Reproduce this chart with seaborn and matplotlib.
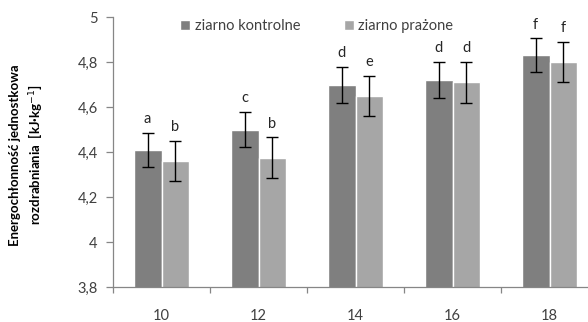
import pandas as pd
import matplotlib.pyplot as plt
import seaborn as sns
from matplotlib.ticker import FuncFormatter, FixedLocator

# values
loads = ['10', '12', '14', '16', '18']
series = ['ziarno kontrolne', 'ziarno prażone']
kontrolne = [4.41, 4.50, 4.70, 4.72, 4.83]
prazone = [4.36, 4.375, 4.65, 4.71, 4.80]
err_kontrolne = [0.075, 0.078, 0.08, 0.08, 0.075]
err_prazone = [0.09, 0.09, 0.09, 0.09, 0.09]
letters_kontrolne = ['a', 'c', 'd', 'd', 'f']
letters_prazone = ['b', 'b', 'e', 'd', 'f']
colors = ['#7f7f7f', '#a6a6a6']

df = pd.DataFrame({
    'load': loads * 2,
    'value': kontrolne + prazone,
    'seria': [series[0]] * 5 + [series[1]] * 5,
})

sns.set_style('white')
plt.rcParams['font.family'] = ['Lato', 'DejaVu Sans']

fig = plt.figure(figsize=(5.88, 3.22), dpi=100)
ax = fig.add_axes([113 / 588, 35 / 322, 485 / 588, 270 / 322])

sns.barplot(data=df, x='load', y='value', hue='seria', palette=colors,
            width=0.57, errorbar=None, saturation=1, ax=ax)

# error bars and significance letters
for bars, errs, letters in zip(ax.containers,
                               [err_kontrolne, err_prazone],
                               [letters_kontrolne, letters_prazone]):
    for bar, e, lab in zip(bars, errs, letters):
        x = bar.get_x() + bar.get_width() / 2
        h = bar.get_height()
        ax.errorbar(x, h, yerr=e, color='black', capsize=4, lw=1, capthick=1)
        ax.text(x, h + e + 0.03, lab, ha='center', va='bottom',
                fontsize=10.5, color='#262626')

ax.set_ylim(3.8, 5.0)
ax.set_yticks([3.8, 4.0, 4.2, 4.4, 4.6, 4.8, 5.0])
ax.yaxis.set_major_formatter(FuncFormatter(lambda v, p: f'{v:g}'.replace('.', ',')))
ax.set_xlim(-0.5, 4.5)

for s in ['top', 'right']:
    ax.spines[s].set_visible(False)
for s in ['left', 'bottom']:
    ax.spines[s].set_color('#868686')
    ax.spines[s].set_linewidth(0.9)

ax.tick_params(axis='y', direction='out', length=5, width=0.9, color='#868686',
               labelsize=10.5, labelcolor='#404040', pad=6, left=True)
ax.tick_params(axis='x', which='major', length=0, labelsize=10.5,
               labelcolor='#404040', pad=16)
ax.xaxis.set_minor_locator(FixedLocator([-0.5, 0.5, 1.5, 2.5, 3.5, 4.5]))
ax.tick_params(axis='x', which='minor', direction='out', length=4, width=0.9,
               color='#868686', bottom=True)

ax.set_xlabel('')
ax.set_ylabel('Energochłonność jednostkowa\nrozdrabniania  [kJ·kg$^{-1}$]',
              fontsize=9.5, fontweight='bold', color='black', linespacing=1.4)
ax.yaxis.set_label_coords(-0.142, 0.49)

ax.legend(loc='upper center', bbox_to_anchor=(0.42, 1.04), ncol=2, frameon=False,
          fontsize=10.5, handlelength=0.7, handleheight=0.7, handletextpad=0.3,
          columnspacing=3.0, labelcolor='#404040')

fig.savefig('out.png', dpi=100)
